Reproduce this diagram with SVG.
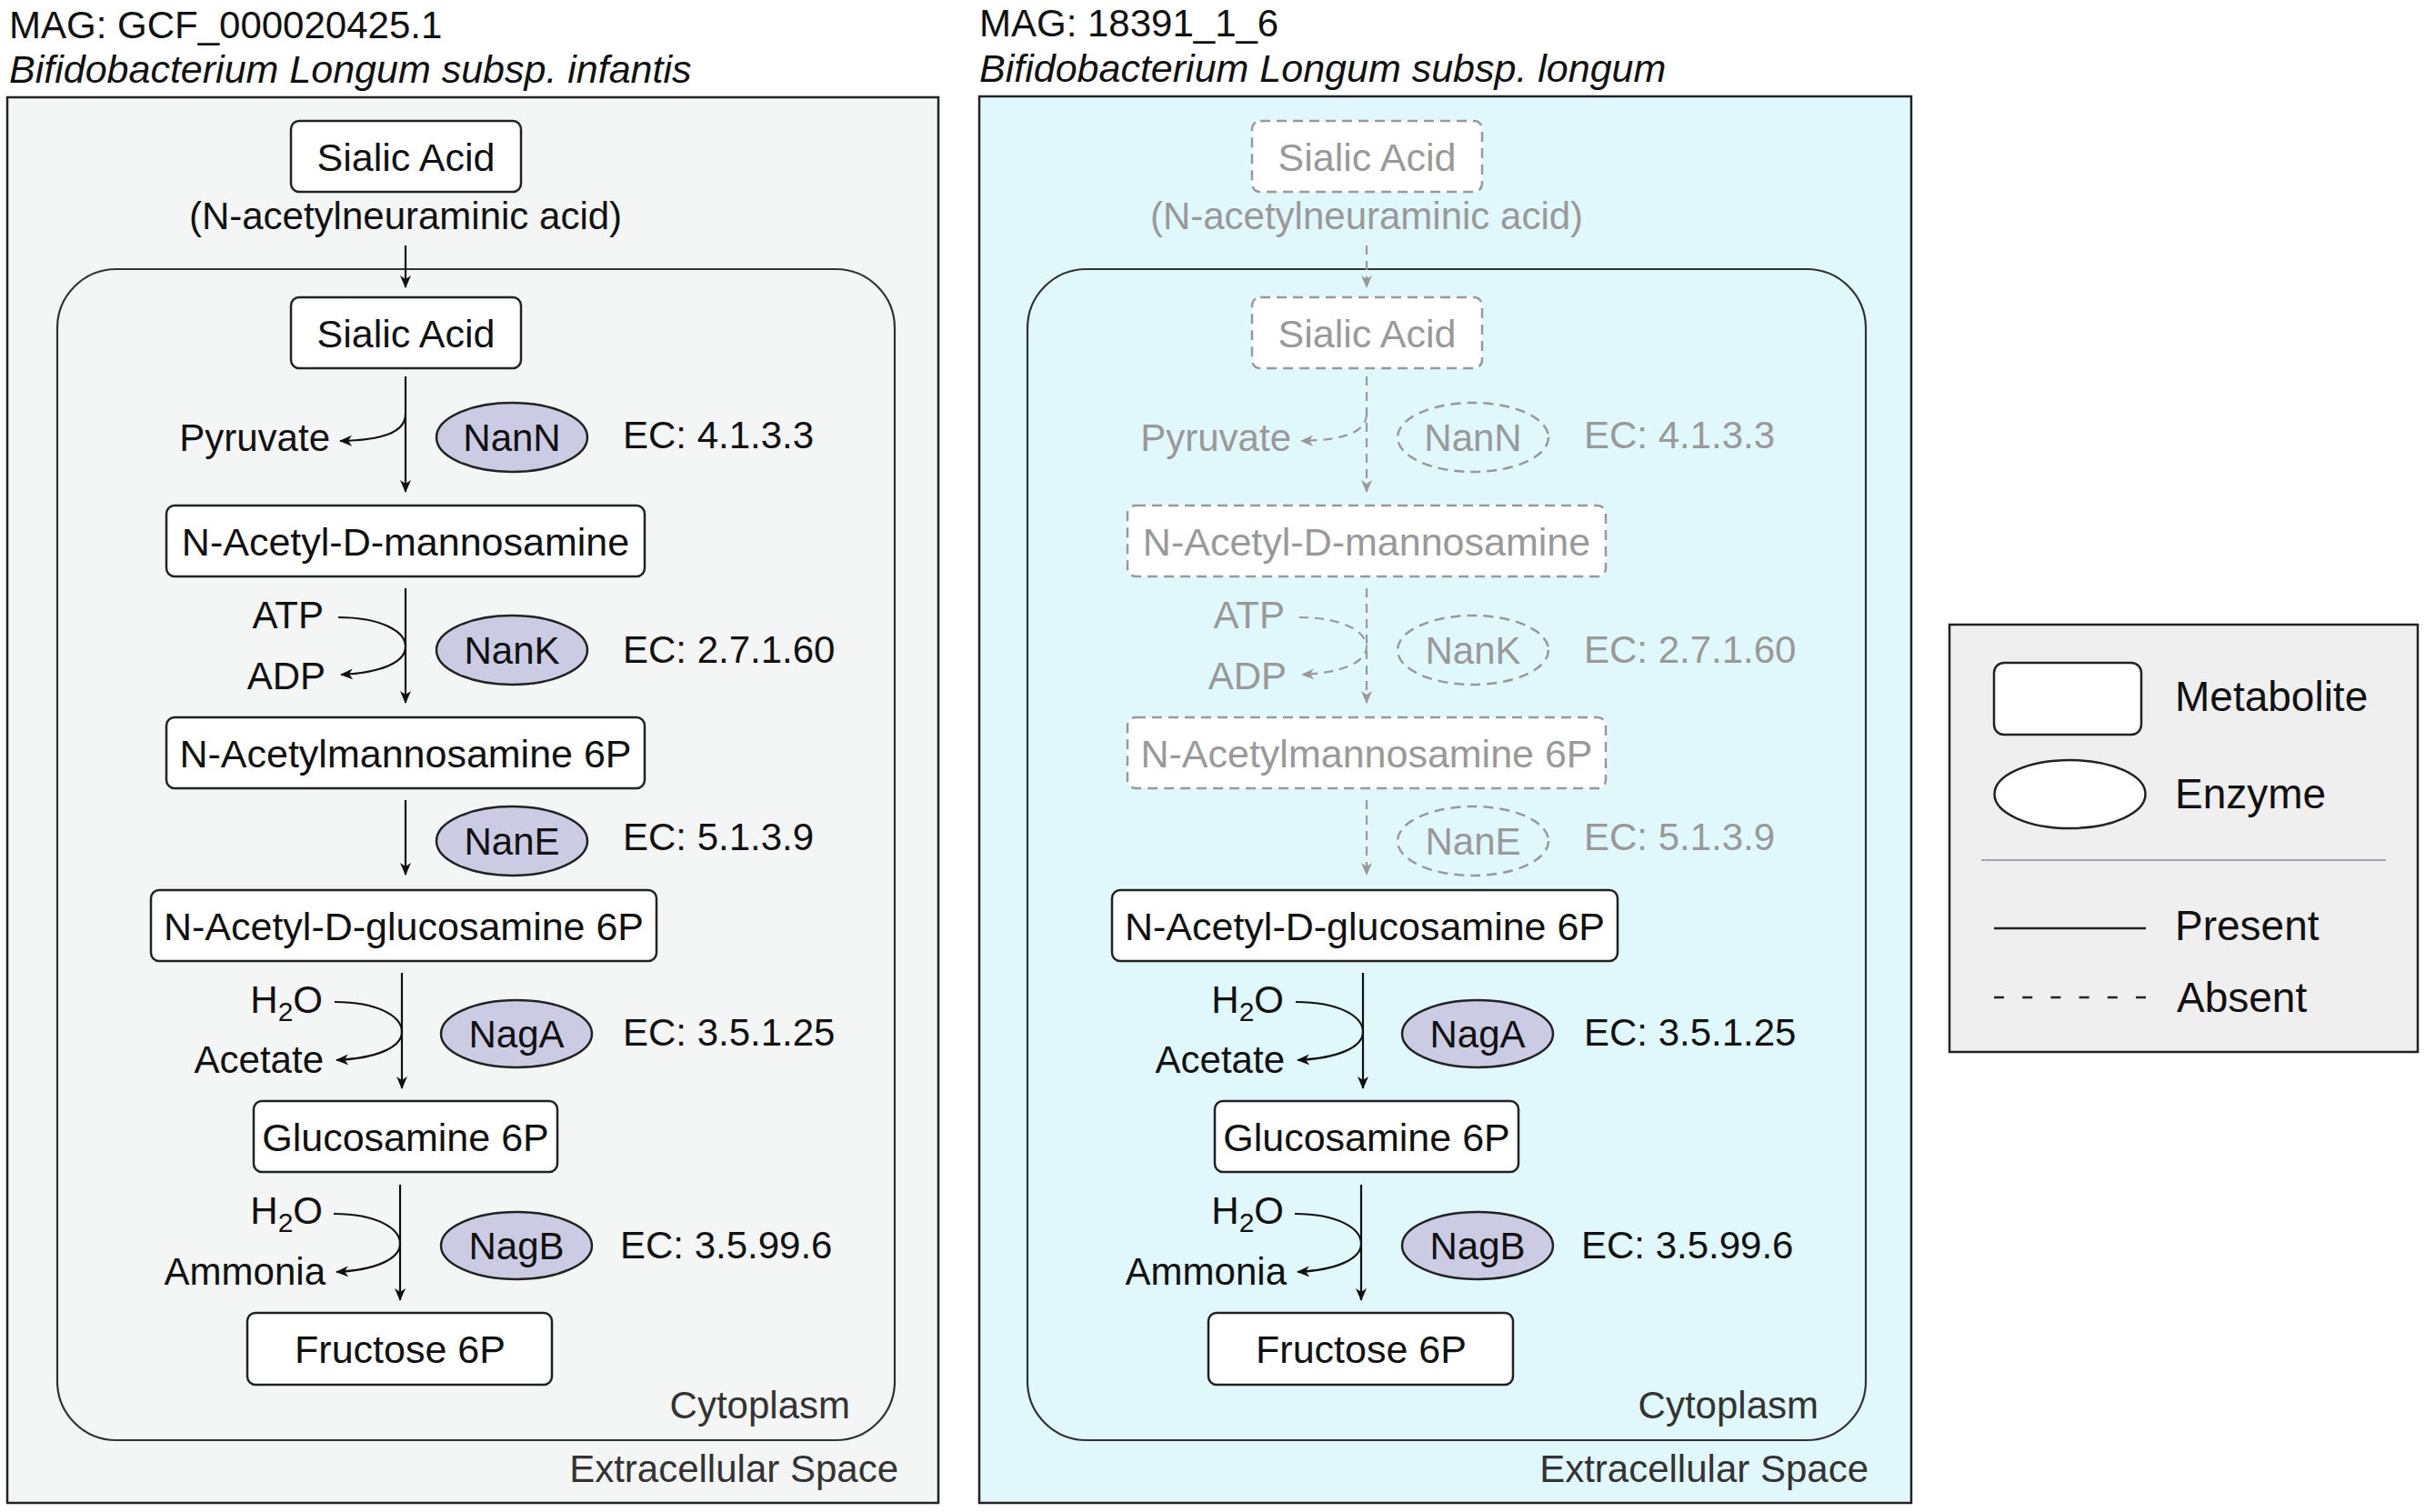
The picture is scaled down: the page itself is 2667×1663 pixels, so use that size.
<svg xmlns="http://www.w3.org/2000/svg" width="2667" height="1663" viewBox="0 0 2667 1663">
<defs>
<style>
text{font-family:"Liberation Sans",Arial,Helvetica,sans-serif;fill:#111;}
.t{font-size:42px;}
.n{font-size:43px;text-anchor:middle;}
.e{font-size:42px;text-anchor:middle;}
.s{font-size:42px;text-anchor:end;}
.g{fill:#999;}
.ti{font-size:42px;}
.it{font-size:43px;font-style:italic;}
.lab{font-size:42px;text-anchor:end;fill:#333;}
.lg{font-size:46px;}
.box{fill:#fff;stroke:#222;stroke-width:2.5;}
.dbox{fill:#fff;stroke:#999;stroke-width:2.5;stroke-dasharray:11 7;}
.enz{fill:#cbcbe3;stroke:#222;stroke-width:2.5;}
.denz{fill:none;stroke:#999;stroke-width:2.5;stroke-dasharray:11 7;}
.ln{fill:none;stroke:#111;stroke-width:2.2;marker-end:url(#ah);}
.dln{fill:none;stroke:#999;stroke-width:2.2;stroke-dasharray:10 7;marker-end:url(#ahg);}
.cyto{fill:none;stroke:#333;stroke-width:2.2;}
</style>
<marker id="ah" viewBox="0 0 14 14" refX="13" refY="7" markerWidth="14" markerHeight="14" markerUnits="userSpaceOnUse" orient="auto">
<path d="M0,1 L14,7 L0,13 L4,7 Z" fill="#111"/>
</marker>
<marker id="ahg" viewBox="0 0 14 14" refX="13" refY="7" markerWidth="14" markerHeight="14" markerUnits="userSpaceOnUse" orient="auto">
<path d="M0,1 L14,7 L0,13 L4,7 Z" fill="#999"/>
</marker>
</defs>

<g id="panel-left">
<rect x="8" y="107" width="1024" height="1546" fill="#f3f6f5" stroke="#222" stroke-width="2.5"/>
<rect x="63" y="296" width="921" height="1288" rx="65" class="cyto"/>
<text x="10" y="42" class="ti">MAG: GCF_000020425.1</text>
<text x="10" y="91" class="it">Bifidobacterium Longum subsp. infantis</text>
<text x="935" y="1560" class="lab">Cytoplasm</text>
<text x="988" y="1630" class="lab">Extracellular Space</text>
</g>

<g id="panel-right">
<rect x="1077" y="106" width="1025" height="1547" fill="#e0f8fb" stroke="#222" stroke-width="2.5"/>
<rect x="1130" y="296" width="922" height="1288" rx="65" class="cyto"/>
<text x="1077" y="40" class="ti">MAG: 18391_1_6</text>
<text x="1077" y="90" class="it">Bifidobacterium Longum subsp. longum</text>
<text x="2000" y="1560" class="lab">Cytoplasm</text>
<text x="2055" y="1630" class="lab">Extracellular Space</text>
</g>

<g id="connectors">
<line x1="446" y1="270" x2="446" y2="316" class="ln"/>
<line x1="446" y1="414" x2="446" y2="541" class="ln"/>
<line x1="446" y1="647" x2="446" y2="773" class="ln"/>
<line x1="446" y1="880" x2="446" y2="962" class="ln"/>
<line x1="442" y1="1070" x2="442" y2="1197" class="ln"/>
<line x1="440" y1="1303" x2="440" y2="1430" class="ln"/>
<path d="M446,455 C446,476 420,484 374,485" class="ln"/>
<path d="M372,679 C420,679 446,695 446,711 C446,729 418,740 375,742" class="ln"/>
<path d="M368,1102 C416,1102 442,1118 442,1135 C442,1152 414,1164 370,1166" class="ln"/>
<path d="M367,1335 C414,1335 440,1351 440,1368 C440,1385 412,1397 370,1399" class="ln"/>

<line x1="1503" y1="270" x2="1503" y2="316" class="dln"/>
<line x1="1503" y1="414" x2="1503" y2="541" class="dln"/>
<line x1="1503" y1="647" x2="1503" y2="773" class="dln"/>
<line x1="1503" y1="880" x2="1503" y2="962" class="dln"/>
<line x1="1499" y1="1070" x2="1499" y2="1197" class="ln"/>
<line x1="1497" y1="1303" x2="1497" y2="1430" class="ln"/>
<path d="M1503,455 C1503,476 1477,484 1431,485" class="dln"/>
<path d="M1429,679 C1477,679 1503,695 1503,711 C1503,729 1475,740 1432,742" class="dln"/>
<path d="M1425,1102 C1473,1102 1499,1118 1499,1135 C1499,1152 1471,1164 1427,1166" class="ln"/>
<path d="M1424,1335 C1471,1335 1497,1351 1497,1368 C1497,1385 1469,1397 1427,1399" class="ln"/>
</g>

<!-- Left column nodes -->
<g id="L-sialic-ext"><rect x="320" y="133" width="253" height="78" rx="9" class="box"/><text x="446.5" y="188" class="n">Sialic Acid</text></g>
<g id="L-neu5ac"><text x="446" y="252" class="e">(N-acetylneuraminic acid)</text></g>
<g id="L-sialic"><rect x="320" y="327" width="253" height="78" rx="9" class="box"/><text x="446.5" y="382" class="n">Sialic Acid</text></g>
<g id="L-pyruvate"><text x="363" y="496" class="s">Pyruvate</text></g>
<g id="L-nanN"><ellipse cx="563" cy="481" rx="83" ry="38" class="enz"/><text x="563" y="496" class="e">NanN</text><text x="685" y="493" class="t">EC: 4.1.3.3</text></g>
<g id="L-manNAc"><rect x="183" y="556" width="526" height="78" rx="9" class="box"/><text x="446" y="611" class="n">N-Acetyl-D-mannosamine</text></g>
<g id="L-atp"><text x="356" y="691" class="s">ATP</text><text x="358" y="758" class="s">ADP</text></g>
<g id="L-nanK"><ellipse cx="563" cy="715" rx="83" ry="38" class="enz"/><text x="563" y="730" class="e">NanK</text><text x="685" y="729" class="t">EC: 2.7.1.60</text></g>
<g id="L-manNAc6P"><rect x="183" y="789" width="526" height="78" rx="9" class="box"/><text x="446" y="844" class="n">N-Acetylmannosamine 6P</text></g>
<g id="L-nanE"><ellipse cx="563" cy="925" rx="83" ry="38" class="enz"/><text x="563" y="940" class="e">NanE</text><text x="685" y="935" class="t">EC: 5.1.3.9</text></g>
<g id="L-glcNAc6P"><rect x="166" y="979" width="556" height="78" rx="9" class="box"/><text x="444" y="1034" class="n">N-Acetyl-D-glucosamine 6P</text></g>
<g id="L-h2oA"><text x="355" y="1114" class="s">H<tspan font-size="30" dy="9">2</tspan><tspan dy="-9">O</tspan></text><text x="356" y="1180" class="s">Acetate</text></g>
<g id="L-nagA"><ellipse cx="568" cy="1137" rx="83" ry="37" class="enz"/><text x="568" y="1152" class="e">NagA</text><text x="685" y="1150" class="t">EC: 3.5.1.25</text></g>
<g id="L-glcN6P"><rect x="279" y="1211" width="334" height="78" rx="9" class="box"/><text x="446" y="1266" class="n">Glucosamine 6P</text></g>
<g id="L-h2oB"><text x="355" y="1346" class="s">H<tspan font-size="30" dy="9">2</tspan><tspan dy="-9">O</tspan></text><text x="358" y="1413" class="s">Ammonia</text></g>
<g id="L-nagB"><ellipse cx="568" cy="1370" rx="83" ry="37" class="enz"/><text x="568" y="1385" class="e">NagB</text><text x="682" y="1384" class="t">EC: 3.5.99.6</text></g>
<g id="L-fru6P"><rect x="272" y="1444" width="335" height="79" rx="9" class="box"/><text x="440" y="1499" class="n">Fructose 6P</text></g>

<!-- Right column nodes -->
<g id="R-sialic-ext"><rect x="1377" y="133" width="253" height="78" rx="9" class="dbox"/><text x="1503.5" y="188" class="n g">Sialic Acid</text></g>
<g id="R-neu5ac"><text x="1503" y="252" class="e g">(N-acetylneuraminic acid)</text></g>
<g id="R-sialic"><rect x="1377" y="327" width="253" height="78" rx="9" class="dbox"/><text x="1503.5" y="382" class="n g">Sialic Acid</text></g>
<g id="R-pyruvate"><text x="1420" y="496" class="s g">Pyruvate</text></g>
<g id="R-nanN"><ellipse cx="1620" cy="481" rx="83" ry="38" class="denz"/><text x="1620" y="496" class="e g">NanN</text><text x="1742" y="493" class="t g">EC: 4.1.3.3</text></g>
<g id="R-manNAc"><rect x="1240" y="556" width="526" height="78" rx="9" class="dbox"/><text x="1503" y="611" class="n g">N-Acetyl-D-mannosamine</text></g>
<g id="R-atp"><text x="1413" y="691" class="s g">ATP</text><text x="1415" y="758" class="s g">ADP</text></g>
<g id="R-nanK"><ellipse cx="1620" cy="715" rx="83" ry="38" class="denz"/><text x="1620" y="730" class="e g">NanK</text><text x="1742" y="729" class="t g">EC: 2.7.1.60</text></g>
<g id="R-manNAc6P"><rect x="1240" y="789" width="526" height="78" rx="9" class="dbox"/><text x="1503" y="844" class="n g">N-Acetylmannosamine 6P</text></g>
<g id="R-nanE"><ellipse cx="1620" cy="925" rx="83" ry="38" class="denz"/><text x="1620" y="940" class="e g">NanE</text><text x="1742" y="935" class="t g">EC: 5.1.3.9</text></g>
<g id="R-glcNAc6P"><rect x="1223" y="979" width="556" height="78" rx="9" class="box"/><text x="1501" y="1034" class="n">N-Acetyl-D-glucosamine 6P</text></g>
<g id="R-h2oA"><text x="1412" y="1114" class="s">H<tspan font-size="30" dy="9">2</tspan><tspan dy="-9">O</tspan></text><text x="1413" y="1180" class="s">Acetate</text></g>
<g id="R-nagA"><ellipse cx="1625" cy="1137" rx="83" ry="37" class="enz"/><text x="1625" y="1152" class="e">NagA</text><text x="1742" y="1150" class="t">EC: 3.5.1.25</text></g>
<g id="R-glcN6P"><rect x="1336" y="1211" width="334" height="78" rx="9" class="box"/><text x="1503" y="1266" class="n">Glucosamine 6P</text></g>
<g id="R-h2oB"><text x="1412" y="1346" class="s">H<tspan font-size="30" dy="9">2</tspan><tspan dy="-9">O</tspan></text><text x="1415" y="1413" class="s">Ammonia</text></g>
<g id="R-nagB"><ellipse cx="1625" cy="1370" rx="83" ry="37" class="enz"/><text x="1625" y="1385" class="e">NagB</text><text x="1739" y="1384" class="t">EC: 3.5.99.6</text></g>
<g id="R-fru6P"><rect x="1329" y="1444" width="335" height="79" rx="9" class="box"/><text x="1497" y="1499" class="n">Fructose 6P</text></g>

<g id="legend">
<rect x="2144" y="687" width="515" height="470" fill="#efefef" stroke="#222" stroke-width="2.5"/>
<rect x="2193" y="729" width="162" height="79" rx="11" class="box"/>
<text x="2392" y="782" class="lg">Metabolite</text>
<ellipse cx="2276.5" cy="873.5" rx="83" ry="37.5" fill="#fff" stroke="#222" stroke-width="2.5"/>
<text x="2392" y="889" class="lg">Enzyme</text>
<line x1="2179" y1="946" x2="2624" y2="946" stroke="#a3a3b5" stroke-width="2"/>
<line x1="2193" y1="1021" x2="2360" y2="1021" stroke="#222" stroke-width="2.5"/>
<text x="2392" y="1034" class="lg">Present</text>
<line x1="2193" y1="1097" x2="2360" y2="1097" stroke="#222" stroke-width="2.5" stroke-dasharray="11 20.2"/>
<text x="2394" y="1113" class="lg">Absent</text>
</g>
</svg>
